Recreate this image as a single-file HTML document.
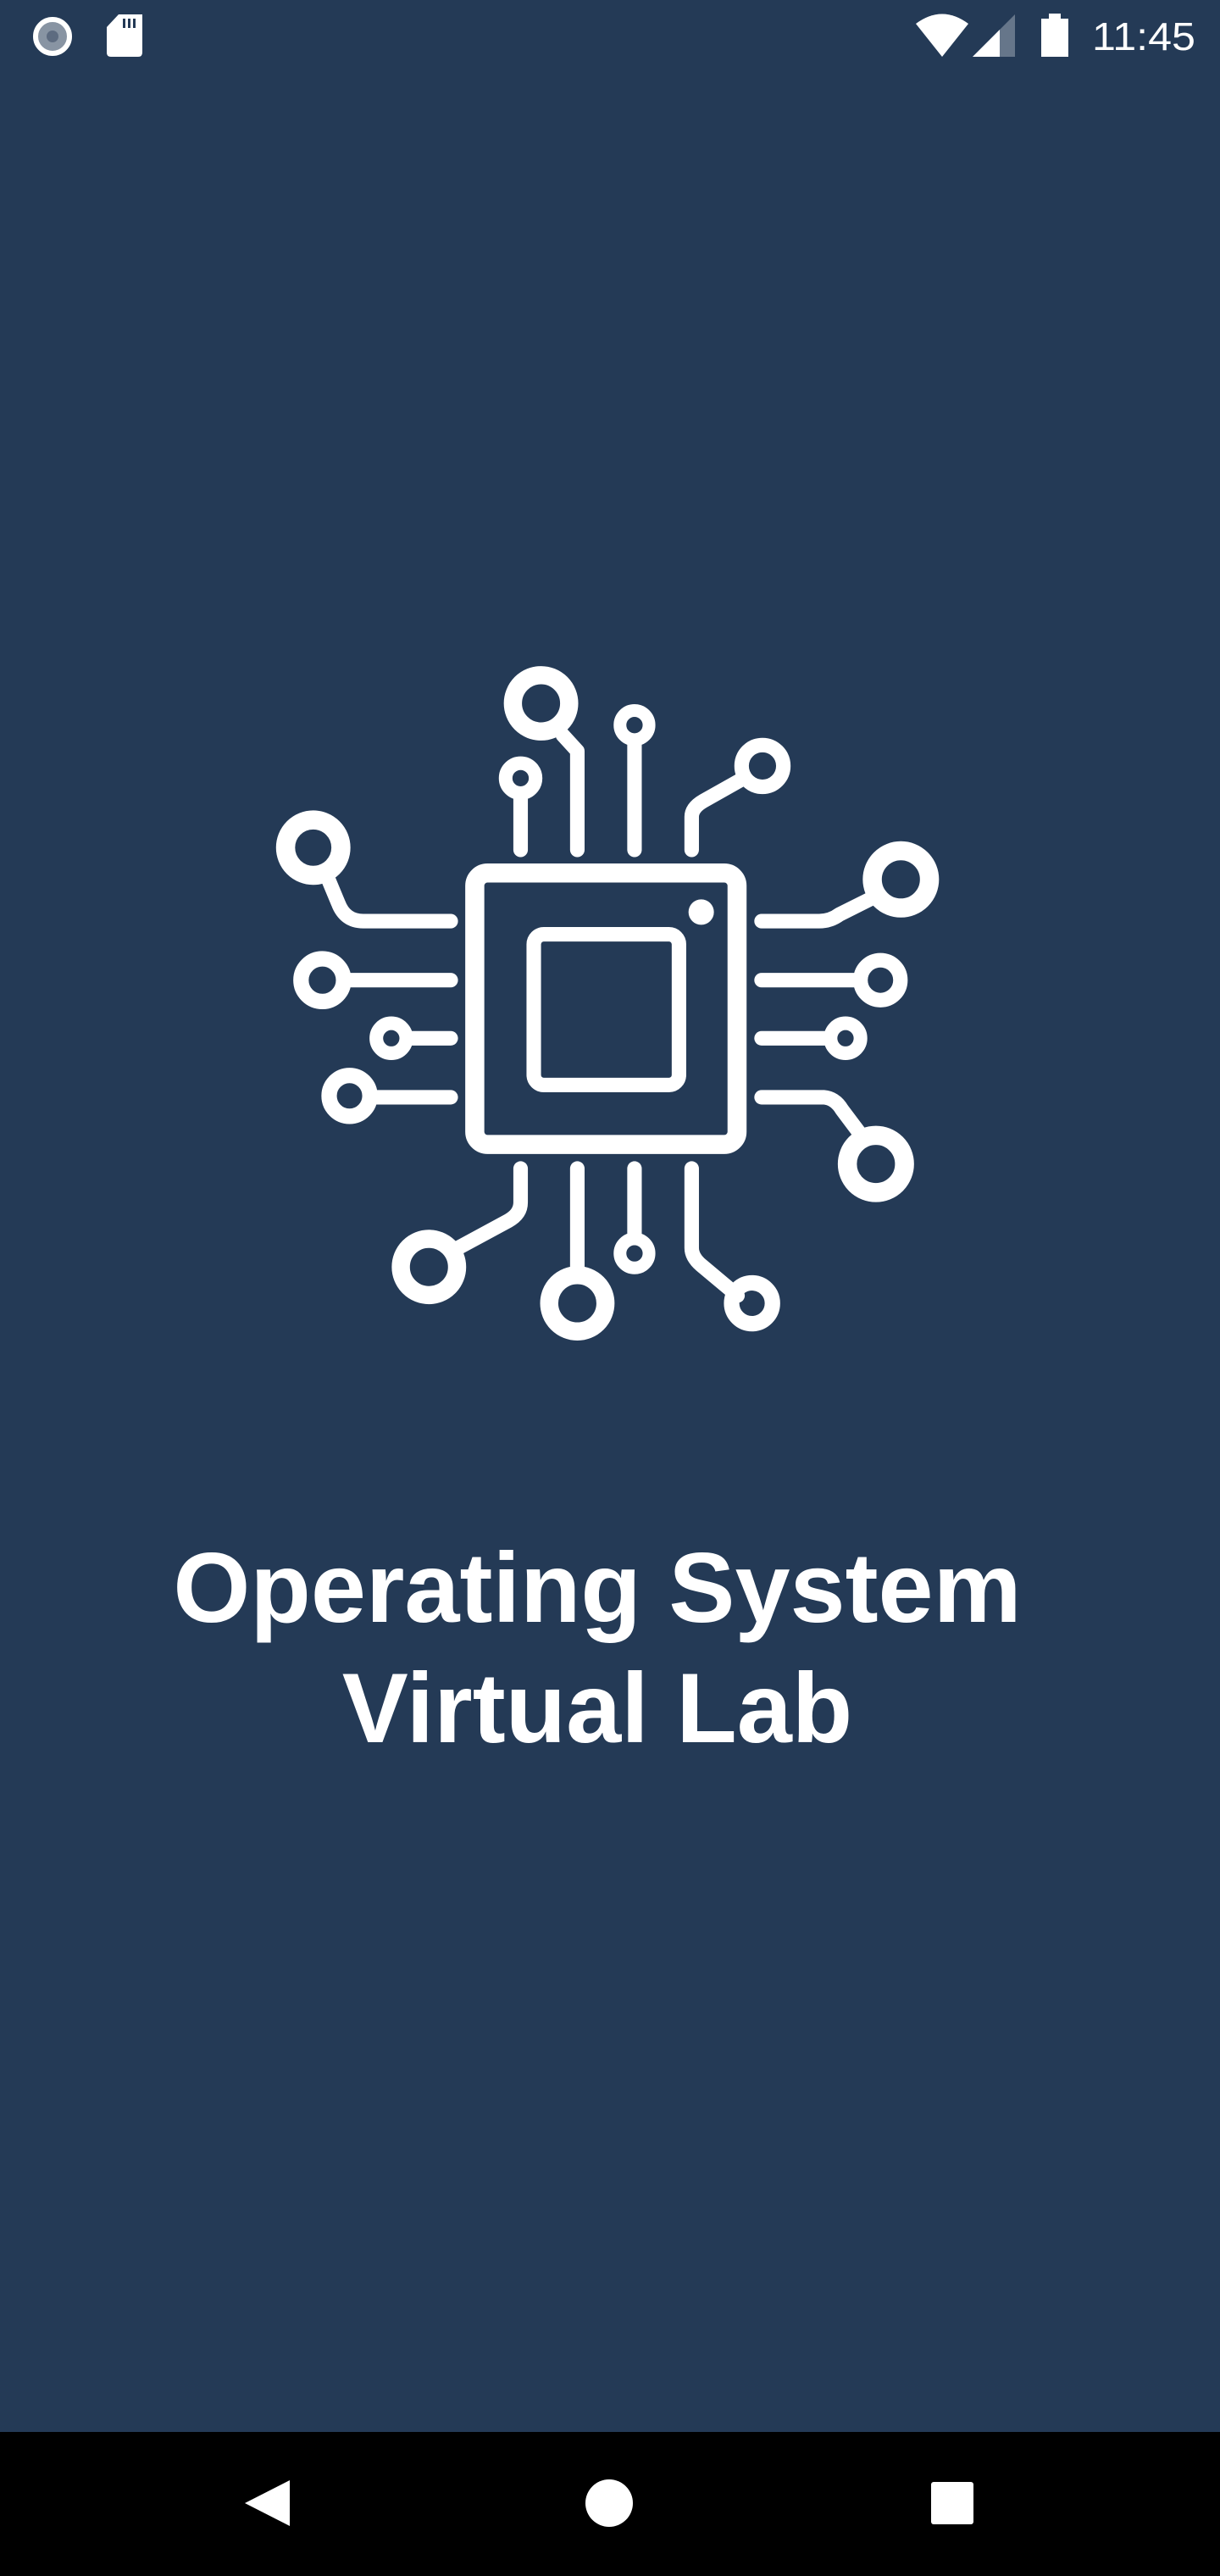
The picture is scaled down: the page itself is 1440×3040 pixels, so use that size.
<!DOCTYPE html>
<html><head><meta charset="utf-8"><style>
html,body{margin:0;padding:0}
body{width:1440px;height:3040px;background:#243a56;position:relative;overflow:hidden;font-family:"Liberation Sans",sans-serif}
.t{position:absolute;left:-15px;width:1440px;text-align:center;color:#fff;font-weight:bold;font-size:117px;line-height:140px}
</style></head><body>
<svg style="position:absolute;left:0;top:0" width="1440" height="90">
<circle cx="62" cy="43" r="20" fill="#8894a3" stroke="#fff" stroke-width="6"/>
<circle cx="62" cy="43" r="7" fill="#5d6b80"/>
<path d="M140 17 H168 V62 Q168 67 163 67 H131 Q126 67 126 62 V32 Z" fill="#fff"/>
<rect x="145" y="22" width="3" height="11" fill="#243a56"/><rect x="151" y="22" width="3" height="11" fill="#243a56"/><rect x="157" y="22" width="3" height="11" fill="#243a56"/>
<path d="M1081 28 Q1112 5 1143 28 L1112 67 Z" fill="#fff"/>
<path d="M1148 67 L1198 17 V67 Z" fill="#66768a"/>
<path d="M1148 67 L1180 35 V67 Z" fill="#fff"/>
<rect x="1229" y="22" width="32" height="45" fill="#fff"/><rect x="1238" y="16" width="14" height="7" fill="#fff"/>
<text x="1289" y="59" fill="#fff" font-family="Liberation Sans" font-size="46" textLength="122" lengthAdjust="spacingAndGlyphs">11:45</text>
</svg>
<svg style="position:absolute;left:300px;top:755px" width="840" height="880" viewBox="0 0 1568 1643" fill="none" stroke="#fff" stroke-linecap="round" stroke-linejoin="round">
<rect x="486" y="514" width="578" height="598" rx="28" stroke-width="42"/>
<rect x="616" y="649" width="320" height="332" rx="22" stroke-width="32"/>
<circle cx="985" cy="600" r="28" fill="#fff" stroke="none"/>
<g stroke-width="32">
<path d="M587 463 V340"/><path d="M712 463 V245 L680 210"/><path d="M838 463 V225"/><path d="M964 463 V390 Q964 370 990 355 L1070 310"/>
<path d="M433 620 H240 Q200 620 185 580 L160 520"/><path d="M433 750 H200"/><path d="M433 878 H340"/><path d="M433 1008 H260"/>
<path d="M1118 620 H1245 Q1270 620 1290 605 L1370 565"/><path d="M1118 750 H1330"/><path d="M1118 878 H1260"/><path d="M1118 1008 H1255 Q1280 1010 1295 1035 L1340 1095"/>
<path d="M587 1165 V1240 Q587 1265 560 1280 L440 1345"/><path d="M712 1165 V1390"/><path d="M838 1165 V1315"/><path d="M964 1165 V1340 Q964 1360 985 1378 L1065 1445"/>
</g>
<circle cx="587" cy="305" r="33" stroke-width="30"/>
<circle cx="632" cy="140" r="62" stroke-width="40"/>
<circle cx="838" cy="188" r="32" stroke-width="28"/>
<circle cx="1120" cy="278" r="46" stroke-width="32"/>
<circle cx="130" cy="458" r="61" stroke-width="42"/>
<circle cx="150" cy="750" r="47" stroke-width="34"/>
<circle cx="302" cy="878" r="33" stroke-width="30"/>
<circle cx="210" cy="1005" r="45" stroke-width="34"/>
<circle cx="1425" cy="528" r="63" stroke-width="42"/>
<circle cx="1380" cy="750" r="44" stroke-width="32"/>
<circle cx="1303" cy="878" r="33" stroke-width="30"/>
<circle cx="1370" cy="1155" r="63" stroke-width="42"/>
<circle cx="385" cy="1382" r="62" stroke-width="40"/>
<circle cx="712" cy="1462" r="62" stroke-width="40"/>
<circle cx="838" cy="1352" r="32" stroke-width="28"/>
<circle cx="1097" cy="1462" r="45" stroke-width="34"/>
</svg>
<div class="t" style="top:1804px">Operating System</div>
<div class="t" style="top:1946px">Virtual Lab</div>
<div style="position:absolute;left:0;top:2870px;width:1440px;height:170px;background:#000"></div>
<svg style="position:absolute;left:0;top:2870px" width="1440" height="170">
<path d="M342 57 V111 L289 84 Z" fill="#fff"/>
<circle cx="719" cy="84" r="28" fill="#fff"/>
<rect x="1099" y="59" width="50" height="50" rx="3" fill="#fff"/>
</svg>
</body></html>
